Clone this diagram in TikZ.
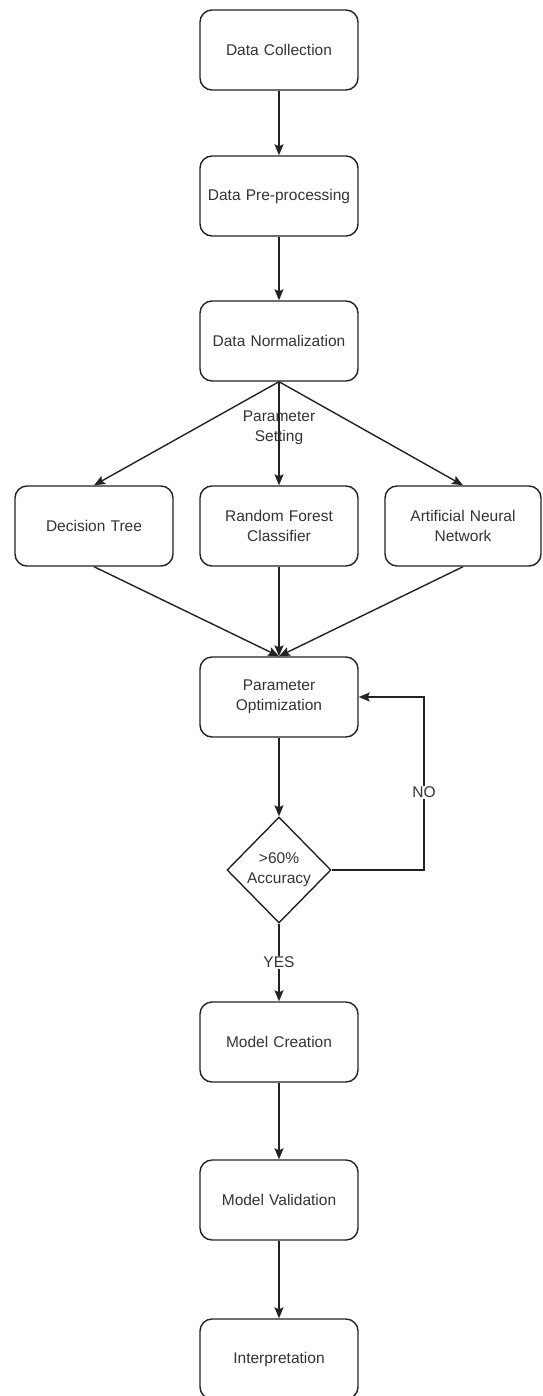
\documentclass[tikz,border=0pt]{standalone}
\usepackage{fontspec}
\setmainfont{Liberation Sans}
\usetikzlibrary{arrows.meta,shapes.geometric}
\definecolor{ln}{HTML}{222222}
\definecolor{tx}{HTML}{333333}
\begin{document}
\begin{tikzpicture}[x=1pt,y=-1pt,
  box/.style={draw=ln,line width=1.4pt,rounded corners=12pt,minimum width=158pt,minimum height=80pt,
    text width=150pt,align=center,inner sep=0pt,text=tx,font=\fontsize{15.5}{20}\selectfont},
  dec/.style={draw=ln,line width=1.4pt,diamond,minimum width=104pt,minimum height=106pt,inner sep=0pt,
    align=center,text=tx,font=\fontsize{15.5}{20}\selectfont},
  arr/.style={draw=ln,line width=1.4pt,-{Stealth[length=11pt,width=9pt,inset=2pt]}},
  lbl/.style={text=tx,font=\fontsize{15.5}{20}\selectfont,align=center,inner sep=1pt}]
\useasboundingbox (0,0) rectangle (542,1396);
\node[box] (dc) at (279,50) {Data Collection};
\node[box] (dp) at (279,196) {Data Pre-processing};
\node[box] (dn) at (279,341) {Data Normalization};
\node[box] (dt) at (94,526) {Decision Tree};
\node[box] (rf) at (279,526) {Random Forest\\Classifier};
\node[box,minimum width=156pt] (ann) at (463,526) {Artificial Neural\\Network};
\node[box] (po) at (279,697) {Parameter\\Optimization};
\node[dec] (acc) at (279,870) {>60\%\\Accuracy};
\node[box] (mc) at (279,1042) {Model Creation};
\node[box] (mv) at (279,1200) {Model Validation};
\node[box] (ip) at (279,1359) {Interpretation};
\coordinate (nocorner1) at (424,870);
\coordinate (nocorner2) at (424,697);
\draw[arr] (dc) -- (dp);
\draw[arr] (dp) -- (dn);
\draw[arr] (dn.south) -- (dt.north);
\draw[arr] (dn.south) -- node[lbl,pos=0.44] {Parameter\\Setting} (rf.north);
\draw[arr] (dn.south) -- (ann.north);
\draw[arr] (dt.south) -- (po.north);
\draw[arr] (rf.south) -- (po.north);
\draw[arr] (ann.south) -- (po.north);
\draw[arr] (po) -- (acc);
\draw[arr] (acc.east) -- (nocorner1) -- node[lbl,fill=white,pos=0.45] {NO} (nocorner2) -- (po.east);
\draw[arr] (acc.south) -- node[lbl,fill=white,pos=0.5] {YES} (mc.north);
\draw[arr] (mc) -- (mv);
\draw[arr] (mv) -- (ip);
\end{tikzpicture}
\end{document}
